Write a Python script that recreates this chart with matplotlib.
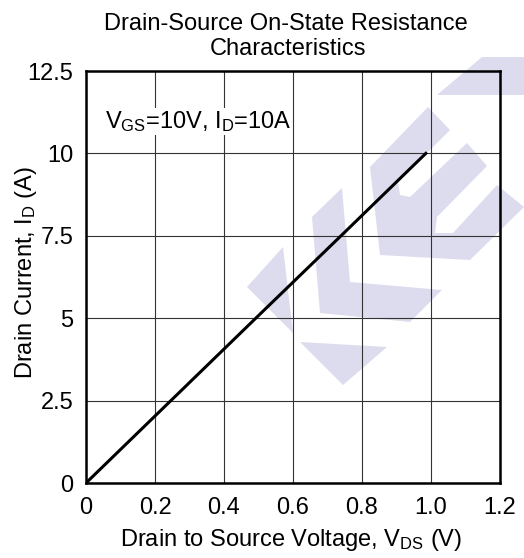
import matplotlib
matplotlib.use("Agg")
import matplotlib.pyplot as plt
from matplotlib.patches import Polygon

plt.rcParams['font.family'] = ['Liberation Sans', 'DejaVu Sans']
plt.rcParams['mathtext.fontset'] = 'custom'
plt.rcParams['mathtext.rm'] = 'Liberation Sans'
plt.rcParams['mathtext.it'] = 'Liberation Sans'

# data
vds = [0.0, 0.25, 0.5, 0.75, 0.985]
i_d = [0.0, 2.54, 5.08, 7.61, 10.0]

xticks = [0, 0.2, 0.4, 0.6, 0.8, 1.0, 1.2]
xlabels = ["0", "0.2", "0.4", "0.6", "0.8", "1.0", "1.2"]
yticks = [0, 2.5, 5, 7.5, 10, 12.5]
ylabels = ["0", "2.5", "5", "7.5", "10", "12.5"]

W, H = 524, 558
FS = 17
fig = plt.figure(figsize=(W/100, H/100), dpi=100)

# watermark logo (pixel outline, figure space)
wm = '#dcdcee'
shapes = [
    [(247, 287), (283, 247), (293, 333)],
    [(300, 342), (387, 347), (343, 385)],
    [(312, 217), (342, 188), (350, 282), (442, 290), (410, 322), (320, 313)],
    [(370, 167), (428, 107), (450, 130), (398, 182), (400, 195), (410, 197),
     (467, 143), (487, 166), (437, 217), (435, 233), (453, 233), (497, 185),
     (524, 207), (470, 260), (380, 255)],
    [(437, 95), (482, 57), (524, 57), (524, 95)],
]
for s in shapes:
    pts = [(x/W, 1 - y/H) for x, y in s]
    fig.patches.append(Polygon(pts, closed=True, facecolor=wm, edgecolor='none',
                               transform=fig.transFigure, zorder=-5))

ax = fig.add_axes([86/W, 1 - 483/H, 414/W, 412/H])
ax.set_facecolor('none')
ax.plot(vds, i_d, color='black', lw=2.2, zorder=3)

ax.set_xlim(0, 1.2)
ax.set_ylim(0, 12.5)
ax.set_xticks(xticks)
ax.set_xticklabels(xlabels)
ax.set_yticks(yticks)
ax.set_yticklabels(ylabels)
ax.tick_params(length=0, labelsize=FS)
ax.tick_params(axis='x', pad=10)
ax.tick_params(axis='y', pad=9)
ax.grid(True, color='#333333', lw=0.8)
for sp in ax.spines.values():
    sp.set_linewidth(1.8)

ax.text(0.055, 10.77, r"V$_{\mathregular{GS}}$=10V, I$_{\mathregular{D}}$=10A", fontsize=FS,
        ha='left', va='baseline', zorder=4,
        bbox=dict(facecolor='white', edgecolor='none', pad=0.5))

ax.set_xlabel(r"Drain to Source Voltage, V$_{\mathregular{DS}}$ (V)", fontsize=FS)
ax.set_ylabel(r"Drain Current, I$_{\mathregular{D}}$ (A)", fontsize=FS)
ax.xaxis.set_label_coords(0.496, -0.106)
ax.yaxis.set_label_coords(-0.113, 0.51)

fig.text(286/W, 1 - 30/H, "Drain-Source On-State Resistance",
         ha='center', va='baseline', fontsize=FS)
fig.text(288/W, 1 - 55/H, "Characteristics",
         ha='center', va='baseline', fontsize=FS)

fig.savefig("out.png", dpi=100)
